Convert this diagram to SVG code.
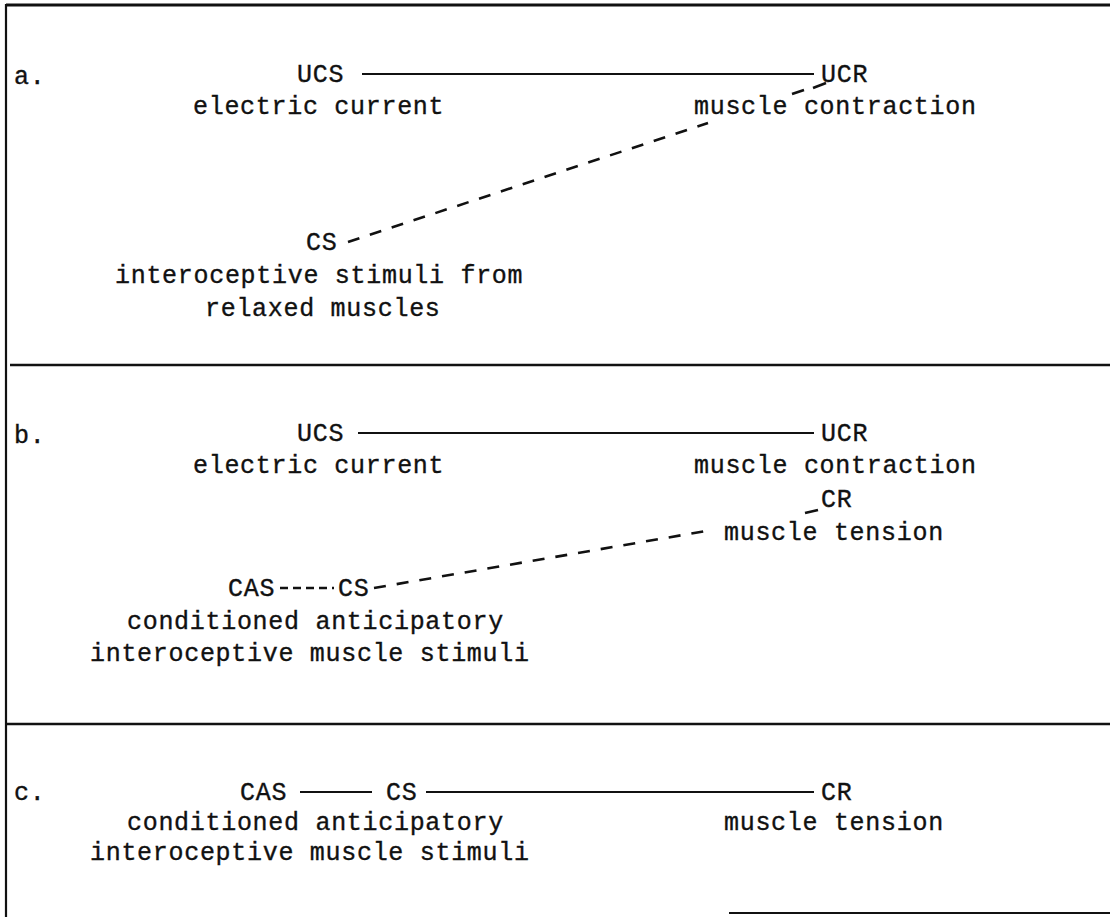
<svg xmlns="http://www.w3.org/2000/svg" width="1110" height="917" viewBox="0 0 1110 917">
<style>
text { font-family: "Liberation Mono", "DejaVu Sans Mono", monospace; font-size: 25px; letter-spacing: 0.7px; fill: #111; stroke: #111; stroke-width: 0.35px; }
.frame line { stroke: #111; stroke-width: 2.2; fill: none; }
.solid { stroke: #111; stroke-width: 2; fill: none; }
.dash { stroke: #111; stroke-width: 2.6; fill: none; stroke-dasharray: 12 11; }
.short { stroke: #111; stroke-width: 2.4; fill: none; stroke-dasharray: 8 5; }
.tick { stroke: #111; stroke-width: 2.6; fill: none; }
</style>
<rect width="1110" height="917" fill="#ffffff"/>
<g id="frame" class="frame">
<line x1="6" y1="5" x2="1110" y2="5" style="stroke-width:2.8"/>
<line x1="6" y1="4" x2="6" y2="917"/>
<line x1="10" y1="365" x2="1110" y2="365" style="stroke-width:2.6"/>
<line x1="6" y1="724" x2="1110" y2="724" style="stroke-width:2.6"/>
<line x1="729" y1="913" x2="1110" y2="913"/>
</g>
<g id="labels">
<text x="14" y="84">a.</text>
<text x="14" y="443">b.</text>
<text x="14" y="800">c.</text>
</g>
<g id="a-ucs"><text x="297" y="82">UCS</text><text x="193" y="114">electric current</text></g>
<g id="a-ucr"><text x="821" y="82">UCR</text><text x="694" y="114">muscle contraction</text></g>
<g id="a-cs"><text x="306" y="250">CS</text><text x="115" y="283">interoceptive stimuli from</text><text x="205" y="316">relaxed muscles</text></g>
<g id="b-ucs"><text x="297" y="441">UCS</text><text x="193" y="473">electric current</text></g>
<g id="b-ucr"><text x="821" y="441">UCR</text><text x="694" y="473">muscle contraction</text></g>
<g id="b-cr"><text x="821" y="507">CR</text><text x="724" y="540">muscle tension</text></g>
<g id="b-cas"><text x="228" y="596">CAS</text></g>
<g id="b-cs"><text x="338" y="596">CS</text><text x="127" y="629">conditioned anticipatory</text><text x="90" y="661">interoceptive muscle stimuli</text></g>
<g id="c-cas"><text x="240" y="800">CAS</text></g>
<g id="c-cs"><text x="386" y="800">CS</text><text x="127" y="830">conditioned anticipatory</text><text x="90" y="860">interoceptive muscle stimuli</text></g>
<g id="c-cr"><text x="821" y="800">CR</text><text x="724" y="830">muscle tension</text></g>
<g id="connectors">
<line class="solid" x1="362" y1="74" x2="814" y2="74"/>
<line class="dash" x1="348" y1="242" x2="708" y2="123"/>
<line class="tick" x1="792" y1="94" x2="804" y2="90"/>
<line class="tick" x1="813" y1="88" x2="826" y2="83"/>
<line class="solid" x1="358" y1="433" x2="814" y2="433"/>
<line class="short" x1="280" y1="588" x2="334" y2="588"/>
<line class="dash" x1="374" y1="588" x2="712" y2="530"/>
<line class="tick" x1="805" y1="513" x2="818" y2="510"/>
<line class="solid" x1="300" y1="792" x2="372" y2="792"/>
<line class="solid" x1="426" y1="792" x2="814" y2="792"/>
</g>
</svg>
